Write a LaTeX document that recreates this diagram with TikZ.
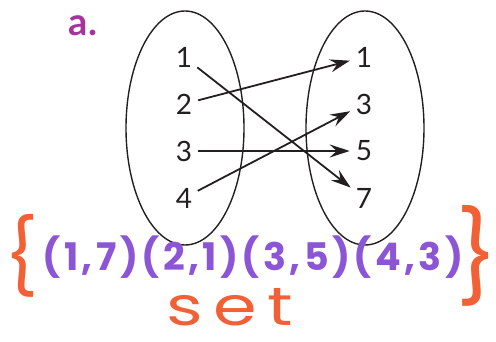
\documentclass[tikz,border=0pt]{standalone}
\usepackage{fontspec}
\setmainfont{Lato}
\newfontfamily\handfont{Poppins}
\usetikzlibrary{arrows.meta}
\definecolor{numgray}{HTML}{231F20}
\definecolor{labelpink}{HTML}{A8329B}
\definecolor{penorange}{HTML}{F26136}
\definecolor{penpurple}{HTML}{8B55D6}
\begin{document}
\begin{tikzpicture}[x=1pt,y=-1pt,
  elem/.style={font=\fontsize{28}{28}\selectfont, text=numgray, inner sep=1pt},
  mapto/.style={-{Stealth[length=20pt,width=13pt,inset=7pt]}, line width=1.8pt, draw=numgray, shorten <=5pt, shorten >=5pt},
  setoval/.style={line width=1.4pt, draw=numgray},
  pen/.style={font=\handfont\bfseries\fontsize{#1}{#1}\selectfont, inner sep=0pt}]
 \useasboundingbox (0,0) rectangle (496,342);
 \draw[setoval] (185,128) ellipse [x radius=59,y radius=117];
 \draw[setoval] (365,128) ellipse [x radius=59,y radius=117];
 \node[font=\bfseries\fontsize{38}{38}\selectfont, text=labelpink, anchor=base] (lbl) at (83,36) {a.};
 \foreach \n/\y in {1/57,2/104,3/151,4/198}
   \node[elem] (l\n) at (184,\y) {\n};
 \foreach \n/\y in {1/57,3/104,5/151,7/198}
   \node[elem] (r\n) at (364,\y) {\n};
 \draw[mapto] (l1) -- (r7);
 \draw[mapto] (l2) -- (r1);
 \draw[mapto] (l3) -- (r5);
 \draw[mapto] (l4) -- (r3);
 % the set of pairs, written by hand
 \node[pen=38, text=penpurple, anchor=base] (pairs) at (253,271)
   {\addfontfeature{LetterSpace=9}(1,7)(2,1)(3,5)(4,3)};
 \node[font=\handfont\fontsize{74}{74}\selectfont, text=penorange, inner sep=0pt] (lbrace) at (22,256) {\{};
 \node[font=\handfont\fontsize{90}{90}\selectfont, text=penorange, inner sep=0pt] (rbrace) at (477,256) {\}};
 \node[font=\handfont\fontsize{54}{54}\selectfont, text=penorange, inner sep=0pt, anchor=base] (setword) at (230,326)
   {\scalebox{1.3}[1]{\addfontfeature{LetterSpace=15}set}};
\end{tikzpicture}
\end{document}
